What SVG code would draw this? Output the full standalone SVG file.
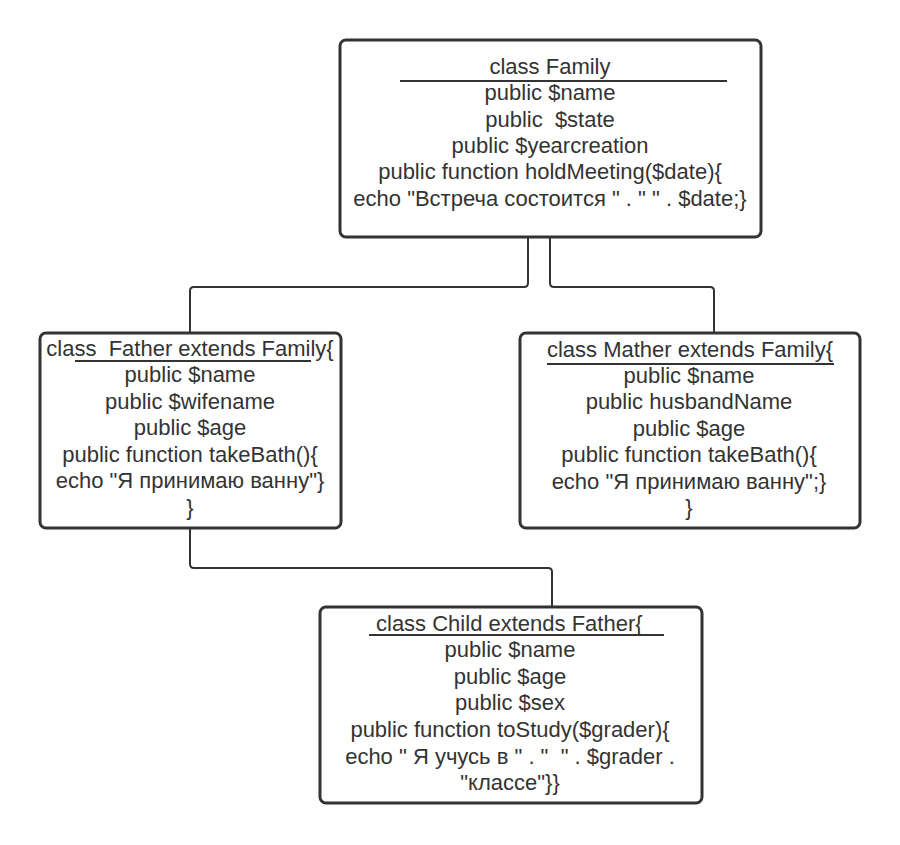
<svg xmlns="http://www.w3.org/2000/svg" width="900" height="845" viewBox="0 0 900 845">
  <style>
    .box { fill: #ffffff; stroke: #333333; stroke-width: 3; }
    .rule { stroke: #333333; stroke-width: 2; }
    .wire { fill: none; stroke: #333333; stroke-width: 2; stroke-linejoin: round; }
    text { font-family: "Liberation Sans", Arial, sans-serif; font-size: 22px; fill: #333333; text-anchor: middle; white-space: pre; }
    .left { text-anchor: start; }
  </style>
  <rect width="900" height="845" fill="#ffffff"/>

  <g id="connectors">
    <path class="wire" d="M528,237 V283 Q528,287 524,287 H194 Q190,287 190,291 V333"/>
    <path class="wire" d="M550,237 V283 Q550,287 554,287 H710 Q714,287 714,291 V333"/>
    <path class="wire" d="M190,528 V564 Q190,568 194,568 H548 Q552,568 552,572 V607"/>
  </g>

  <g id="family">
    <rect class="box" x="340" y="40" width="421" height="197" rx="6"/>
    <line class="rule" x1="400" y1="81" x2="727" y2="81"/>
    <text x="550" y="74">class Family</text>
    <text x="550" y="100">public $name</text>
    <text x="550" y="127">public  $state</text>
    <text x="550" y="153">public $yearcreation</text>
    <text x="550" y="179">public function holdMeeting($date){</text>
    <text x="550" y="206">echo "Встреча состоится " . " " . $date;}</text>
  </g>

  <g id="father">
    <rect class="box" x="40" y="333" width="301" height="195" rx="6"/>
    <line class="rule" x1="75" y1="361" x2="311" y2="361"/>
    <text x="190" y="356">class  Father extends Family{</text>
    <text x="190" y="382">public $name</text>
    <text x="190" y="409">public $wifename</text>
    <text x="190" y="435">public $age</text>
    <text x="190" y="462">public function takeBath(){</text>
    <text x="190" y="488">echo "Я принимаю ванну"}</text>
    <text x="190" y="515">}</text>
  </g>

  <g id="mather">
    <rect class="box" x="520" y="333" width="340" height="195" rx="6"/>
    <line class="rule" x1="547" y1="364" x2="834" y2="364"/>
    <text x="690" y="357">class Mather extends Family{</text>
    <text x="689" y="383">public $name</text>
    <text x="689" y="409">public husbandName</text>
    <text x="689" y="436">public $age</text>
    <text x="689" y="462">public function takeBath(){</text>
    <text x="689" y="489">echo "Я принимаю ванну";}</text>
    <text x="689" y="515">}</text>
  </g>

  <g id="child">
    <rect class="box" x="320" y="607" width="382" height="196" rx="6"/>
    <line class="rule" x1="369" y1="635" x2="664" y2="635"/>
    <text class="left" x="376" y="631">class Child extends Father{</text>
    <text x="510" y="657">public $name</text>
    <text x="510" y="684">public $age</text>
    <text x="510" y="710">public $sex</text>
    <text x="510" y="737">public function toStudy($grader){</text>
    <text x="510" y="764">echo " Я учусь в " . "  " . $grader .</text>
    <text x="510" y="790">"классе"}}</text>
  </g>
</svg>
